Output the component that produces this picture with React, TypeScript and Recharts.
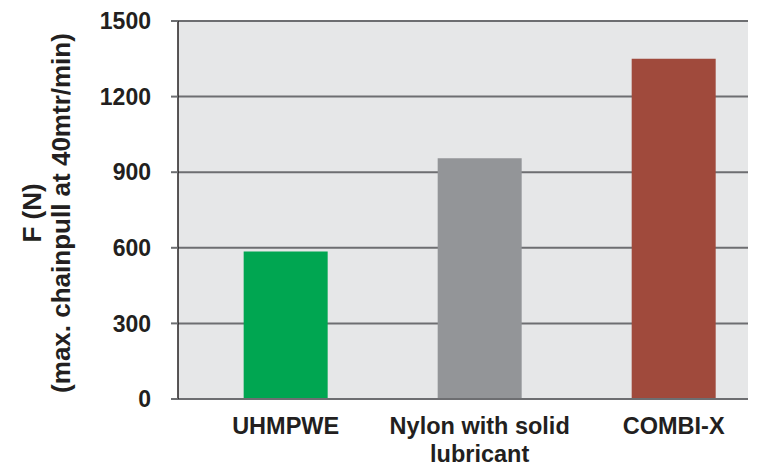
import React from 'react'
import {
  BarChart,
  Bar,
  XAxis,
  YAxis,
  CartesianGrid,
  Cell
} from 'recharts'

// bar categories
const categories = ['UHMPWE', 'Nylon with solid\nlubricant', 'COMBI-X']
const forces = [585, 955, 1350]
const barColors = ['#00a651', '#939598', '#a04a3c']
const yTicks = [0, 300, 600, 900, 1200, 1500]

const data = categories.map((name, i) => ({ pos: i, name, force: forces[i] }))

const FONT = '"Liberation Sans", Arial, sans-serif'
const INK = '#231f20'

function CategoryTick(props: any) {
  const { x, y, payload } = props
  const lines = String(categories[payload.value] ?? '').split('\n')
  return (
    <text
      x={x}
      y={y}
      textAnchor="middle"
      fontFamily={FONT}
      fontWeight="bold"
      fontSize={23.5}
      fill={INK}
    >
      {lines.map((l, i) => (
        <tspan key={i} x={x} dy={i === 0 ? '0.71em' : 28}>
          {l}
        </tspan>
      ))}
    </text>
  )
}

function YTitle(props: any) {
  const cy = 213
  return (
    <g fontFamily={FONT} fontWeight="bold" fontSize={26} fill={INK}>
      <text
        x={32}
        y={cy}
        dy="0.35em"
        textAnchor="middle"
        transform={`rotate(-90, 32, ${cy})`}
      >
        F (N)
      </text>
      <text
        x={61}
        y={cy}
        dy="0.35em"
        textAnchor="middle"
        transform={`rotate(-90, 61, ${cy})`}
      >
        (max. chainpull at 40mtr/min)
      </text>
    </g>
  )
}

export default function App() {
  return (
    <div style={{ position: 'absolute', left: 0, top: 0, width: 758, height: 469, background: '#fff' }}>
      <BarChart
        width={758}
        height={469}
        data={data}
        margin={{ top: 21, right: 10, bottom: 10, left: 0 }}
      >
        <CartesianGrid
          vertical={false}
          fill="#e6e7e8"
          stroke="#6d6e71"
          strokeWidth={2}
          horizontalValues={yTicks}
        />
        <XAxis
          dataKey="pos"
          type="number"
          domain={[-0.555, 2.383]}
          ticks={[0, 1, 2]}
          allowDataOverflow
          height={60}
          tickLine={false}
          tickSize={0}
          tickMargin={18}
          axisLine={{ stroke: '#6d6e71', strokeWidth: 2 }}
          tick={<CategoryTick />}
        />
        <YAxis
          width={178}
          domain={[0, 1500]}
          ticks={yTicks}
          interval={0}
          tickSize={7}
          tickMargin={20}
          axisLine={{ stroke: INK, strokeWidth: 1.5 }}
          tickLine={{ stroke: '#6d6e71', strokeWidth: 2 }}
          tick={{ fontFamily: FONT, fontWeight: 'bold', fontSize: 23, fill: INK }}
          label={<YTitle />}
        />
        <Bar dataKey="force" barSize={84} isAnimationActive={false}>
          {data.map((d, i) => (
            <Cell key={d.name} fill={barColors[i]} />
          ))}
        </Bar>
      </BarChart>
    </div>
  )
}
